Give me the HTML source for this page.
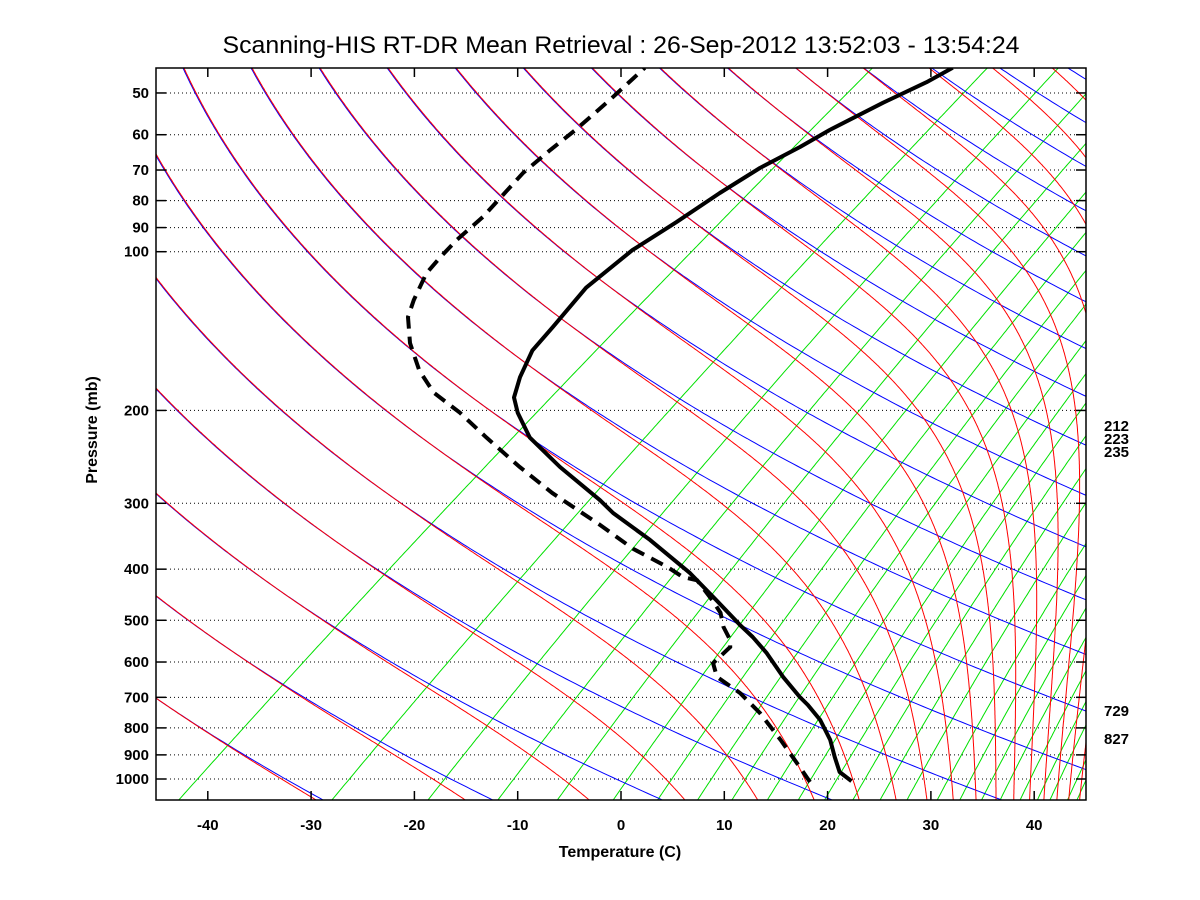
<!DOCTYPE html>
<html><head><meta charset="utf-8"><style>
html,body{margin:0;padding:0;background:#fff;}
svg{display:block;font-family:"Liberation Sans",Arial,sans-serif;}
</style></head><body>
<svg id="chart" width="1200" height="900" viewBox="0 0 1200 900" xmlns="http://www.w3.org/2000/svg">
<defs><clipPath id="plotclip"><rect x="156" y="68" width="930" height="732"/></clipPath></defs>
<rect x="0" y="0" width="1200" height="900" fill="#fff"/>
<text x="621" y="53" font-size="24" text-anchor="middle" textLength="797" lengthAdjust="spacingAndGlyphs">Scanning-HIS RT-DR Mean Retrieval : 26-Sep-2012 13:52:03 - 13:54:24</text>
<g id="grid" clip-path="url(#plotclip)"></g>
<g id="bg" clip-path="url(#plotclip)"></g>
<g id="profiles" clip-path="url(#plotclip)"></g>
<g id="axes"></g>
<text x="620" y="857" font-size="16" font-weight="bold" text-anchor="middle">Temperature (C)</text>
<text x="97" y="430" font-size="16" font-weight="bold" text-anchor="middle" transform="rotate(-90 97 430)">Pressure (mb)</text>
<g font-size="15" font-weight="bold">
<text x="1104" y="431">212</text>
<text x="1104" y="444">223</text>
<text x="1104" y="457">235</text>
<text x="1104" y="716">729</text>
<text x="1104" y="744">827</text>
</g>
</svg>
<script>
// ---- data ----
const pressureTicks = [50,60,70,80,90,100,200,300,400,500,600,700,800,900,1000];
const tempTicks = [-40,-30,-20,-10,0,10,20,30,40];
const dryThetas = [222,238,254,270,286,302,318,334,350,366,382,398,414,430,446,462,478,494,510,526,542,558];
const moistThetaE = [222,238,254,270,286,302,318,334,350,366,382,398,414,430,446,462,478,494,510,526,542,558];
const mixingRatios = [0.08,0.35,0.8,1.4,2.2,3.3,4.5,5.9,7.4,9.3,11.3,13.3,15.8,18.6,21.8,26,29.6,33.5,37.2,41.6,45.8,49.1,54.1,57];
const tempP = [1009,970,908,843,773,724,699,640,577,538,510,458,407,352,313,296,256,225,202,189,173,154,139,117,99.3,87.9,77.4,69.4,63.3,58.8,52.2,47.7,44.8];
const tempT = [19.9,17.6,15.2,12.6,9.1,6.0,4.2,0.0,-4.6,-8.0,-10.8,-16.2,-22.2,-30.3,-37.3,-40.2,-48.3,-55.0,-59.3,-61.6,-63.6,-65.8,-66.8,-68.6,-68.9,-68.2,-67.7,-67.0,-65.8,-65.1,-63.4,-61.8,-61.1];
const dewP = [1013,949,843,750,687,640,603,562,545,515,484,458,420,414,396,366,330,287,256,225,202,185,168,149,133,123.5,109.8,102.3,95.0,85.9,70.9,64.1,58.8,51.6,44.8];
const dewT = [16.0,13.1,7.8,2.4,-2.1,-6.4,-8.5,-8.9,-9.8,-12.1,-14.2,-16.6,-20.6,-22.4,-25.2,-30.8,-37.0,-45.7,-52.2,-59.2,-64.9,-70.0,-74.2,-78.6,-82.1,-83.7,-85.9,-86.6,-87.2,-87.6,-89.3,-89.6,-89.7,-90.2,-90.9];

// ---- axis functions ----
const L=156,R=1086,T=68,B=800;
function yP(p){return 779-527.3*Math.log10(1000/p);}
function xTP(t,p){return 621+10.33*t+1.315*(B-yP(p));}
function xTemp(t){return 621+10.33*t;}
const NS='http://www.w3.org/2000/svg';
function mk(tag,attrs,parent){const e=document.createElementNS(NS,tag);for(const k in attrs)e.setAttribute(k,attrs[k]);parent.appendChild(e);return e;}
function pathD(pts){return pts.map((q,i)=>(i?'L':'M')+q[0].toFixed(1)+' '+q[1].toFixed(1)).join(' ');}
const grid=document.getElementById('grid'),bg=document.getElementById('bg'),prof=document.getElementById('profiles'),axes=document.getElementById('axes');
const pLevels=[];for(let lp=Math.log(1120);lp>=Math.log(38);lp-=0.01)pLevels.push(Math.exp(lp));

pressureTicks.forEach(p=>{
  const y=yP(p);
  const g=mk('line',{x1:L+10,x2:R,y1:y,y2:y,stroke:'#000','stroke-width':1,'stroke-dasharray':'1,3'},grid);
  
  
});
mixingRatios.forEach(w=>{
  const pts=pLevels.map(p=>{const e=w*p/(622+w);const l=Math.log(e/6.112);const td=243.5*l/(17.67-l);return [xTP(td,p),yP(p)];});
  const el=mk('path',{d:pathD(pts),fill:'none',stroke:'#00e000','stroke-width':1},bg);
  
  
});
dryThetas.forEach(th=>{
  const pts=pLevels.map(p=>[xTP(th*Math.pow(p/1000,0.2857)-273.15,p),yP(p)]);
  const el=mk('path',{d:pathD(pts),fill:'none',stroke:'#0000ff','stroke-width':1},bg);
  
  
});
// moist adiabats integrated downward from the top where they match dry theta
moistThetaE.forEach(th=>{
  let lp=Math.log(30);let Tk=th*Math.pow(30/1000,0.2857);const pts=[];const dl=0.005;
  while(lp<Math.log(1120)){
    const p=Math.exp(lp);pts.push([xTP(Tk-273.15,p)+1,yP(p)]);
    const tc=Tk-273.15;const es=6.112*Math.exp(17.67*tc/(tc+243.5));const rs=0.622*es/Math.max(p-es,1e-3);
    const dT=(287*Tk+2.5e6*rs)/(1004+2.5e6*2.5e6*rs*0.622/(287*Tk*Tk));
    Tk+=dT*dl;lp+=dl;
  }
  const el=mk('path',{d:pathD(pts),fill:'none',stroke:'#ff0000','stroke-width':1},bg);
  
  
});
const tpts=tempP.map((p,i)=>[xTP(tempT[i],p),yP(p)]);
const tl=mk('path',{d:pathD(tpts),fill:'none',stroke:'#000','stroke-width':4,'stroke-linejoin':'round'},prof);


const dpts=dewP.map((p,i)=>[xTP(dewT[i],p),yP(p)]);
const dlp=mk('path',{d:pathD(dpts),fill:'none',stroke:'#000','stroke-width':4,'stroke-dasharray':'13,8'},prof);



const fr=mk('rect',{x:L,y:T,width:R-L,height:B-T,fill:'none',stroke:'#000','stroke-width':1.5},axes);


pressureTicks.forEach(p=>{
  const y=yP(p);
  mk('line',{x1:L,x2:L+10,y1:y,y2:y,stroke:'#000','stroke-width':1.5},axes);
  mk('line',{x1:R-10,x2:R,y1:y,y2:y,stroke:'#000','stroke-width':1.5},axes);
  const t=mk('text',{x:149,y:y+5,'font-size':15,'font-weight':'bold','text-anchor':'end'},axes);
  t.textContent=p;
  
  
});
tempTicks.forEach(tv=>{
  const x=xTemp(tv);
  mk('line',{x1:x,x2:x,y1:B,y2:B-9,stroke:'#000','stroke-width':1.5},axes);
  mk('line',{x1:x,x2:x,y1:T,y2:T+9,stroke:'#000','stroke-width':1.5},axes);
  const t=mk('text',{x:x,y:830,'font-size':15,'font-weight':'bold','text-anchor':'middle'},axes);
  t.textContent=tv;
  
  
});
</script>
</body></html>
